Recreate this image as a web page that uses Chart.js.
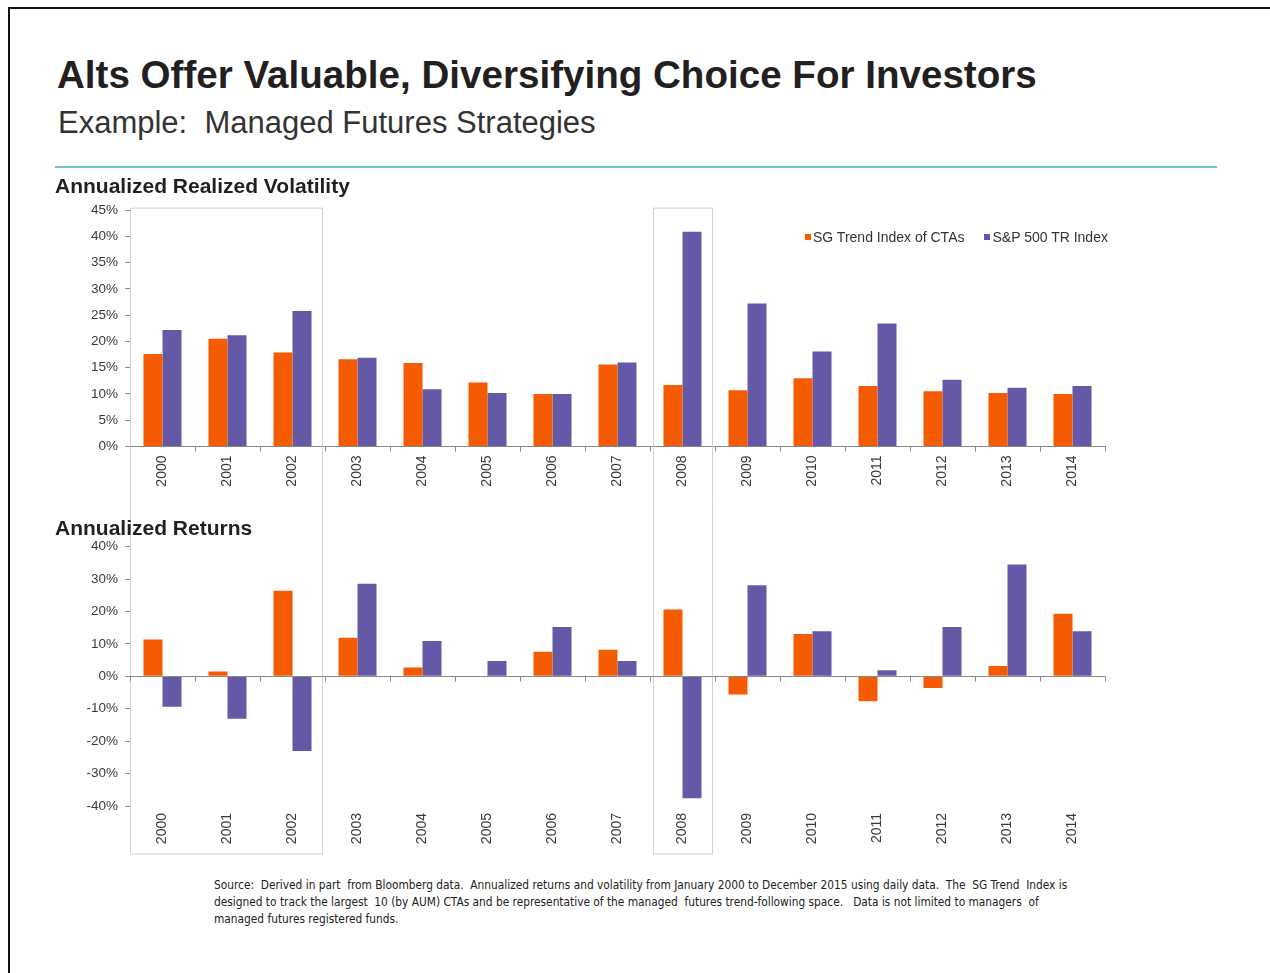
<!DOCTYPE html>
<html>
<head>
<meta charset="utf-8">
<script src="https://cdn.jsdelivr.net/npm/chart.js@4"></script>
<style>
  body { margin: 0; width: 1270px; height: 973px; overflow: hidden; background: #fff;
         font-family: "Liberation Sans", Arial, sans-serif; }
  .abs { position: absolute; white-space: nowrap; }
  #frame { left: 8px; top: 7px; width: 1300px; height: 1000px; border-top: 2px solid #111; border-left: 2px solid #111; }
  #title { left: 57px; top: 56px; font-size: 38.6px; line-height: 38px; font-weight: bold; color: #231f20; }
  #subtitle { left: 58px; top: 107px; font-size: 31px; line-height: 31px; color: #333; }
  #rule { left: 55px; top: 166px; width: 1162px; height: 1.5px; background: #6cc5c8; }
  .head { left: 55px; font-size: 21px; line-height: 21px; font-weight: bold; color: #231f20; }
  #legend { left: 805px; top: 229px; font-size: 14px; line-height: 16px; color: #333; }
  #legend span.item { margin-right: 20px; }
  #legend i { display: inline-block; width: 6px; height: 6px; margin-right: 2px; vertical-align: 2px; }
  #source { left: 214px; top: 877px; font-family: "Liberation Sans Narrow", "DejaVu Sans Condensed", sans-serif;
            font-size: 11.8px; line-height: 17px; color: #222; }
  canvas { position: absolute; }
</style>
</head>
<body>
<div id="frame" class="abs"></div>
<div id="title" class="abs">Alts Offer Valuable, Diversifying Choice For Investors</div>
<div id="subtitle" class="abs">Example:&nbsp; Managed Futures Strategies</div>
<div id="rule" class="abs"></div>

<canvas id="volChart" style="left:40px; top:195px; width:1080px; height:305px;"></canvas>
<canvas id="retChart" style="left:40px; top:500px; width:1080px; height:360px;"></canvas>

<div class="abs head" style="top:175px;">Annualized Realized Volatility</div>
<div class="abs head" style="top:517px;">Annualized Returns</div>
<div id="legend" class="abs"></div>

<div id="source" class="abs">Source:&nbsp; Derived in part&nbsp; from Bloomberg data.&nbsp; Annualized returns and volatility from January 2000 to December 2015 using daily data.&nbsp; The&nbsp; SG Trend&nbsp; Index is<br>designed to track the largest&nbsp; 10 (by AUM) CTAs and be representative of the managed&nbsp; futures trend-following space.&nbsp;&nbsp; Data is not limited to managers&nbsp; of<br>managed futures registered funds.</div>

<script>
var years = ["2000", "2001", "2002", "2003", "2004", "2005", "2006", "2007",
             "2008", "2009", "2010", "2011", "2012", "2013", "2014"];
var seriesNames = ["SG Trend Index of CTAs", "S&P 500 TR Index"];
var seriesColors = ["#f55b00", "#6459a6"];

// annualized realized volatility, %
var volSG = [17.6, 20.5, 17.9, 16.6, 15.9, 12.2, 10.0, 15.6, 11.7, 10.7, 13.0, 11.5, 10.5, 10.2, 10.0];
var volSP = [22.2, 21.2, 25.8, 16.9, 10.9, 10.2, 10.0, 16.0, 40.9, 27.2, 18.1, 23.4, 12.7, 11.2, 11.5];

// annualized returns, %
var retSG = [11.4, 1.5, 26.4, 11.9, 2.7, 0, 7.6, 8.2, 20.6, -5.6, 13.1, -7.7, -3.6, 3.2, 19.3];
var retSP = [-9.4, -13.1, -23.0, 28.6, 10.9, 4.7, 15.2, 4.7, -37.6, 28.1, 13.9, 1.9, 15.2, 34.5, 13.9];

// axis ranges [min, max, step]
var volAxis = [0, 45, 5];
var retAxis = [-40, 40, 10];

// periods boxed across both charts
var boxFrom = ["2000", "2008"];
var boxTo = ["2002", "2008"];

Chart.defaults.font.family = '"Liberation Sans", Arial, sans-serif';
Chart.defaults.color = "#3a3a3a";

var boxesPlugin = {
    id: 'boxes',
    beforeDatasetsDraw: function(chart, args, opts) {
        var x = chart.scales.x, area = chart.chartArea, ctx = chart.ctx;
        var half = (x.getPixelForValue(1) - x.getPixelForValue(0)) / 2;
        var top = opts.top === 'area' ? area.top - 2 : 0.5;
        var bottom = opts.top === 'area' ? chart.height : x.bottom - 6;
        ctx.save();
        ctx.strokeStyle = "#d2d2d2";
        ctx.lineWidth = 1;
        for (var i = 0; i < boxFrom.length; i++) {
            var i0 = years.indexOf(boxFrom[i]), i1 = years.indexOf(boxTo[i]);
            var l = i0 === 0 ? area.left : x.getPixelForValue(i0) - half + 3;
            var r = x.getPixelForValue(i1) + half - 3;
            l = Math.round(l) + 0.5;
            r = Math.round(r) + 0.5;
            ctx.beginPath();
            if (opts.top === 'area') {
                ctx.moveTo(l, bottom);
                ctx.lineTo(l, top);
                ctx.lineTo(r, top);
                ctx.lineTo(r, bottom);
            } else {
                ctx.moveTo(l, top);
                ctx.lineTo(l, bottom);
                ctx.lineTo(r, bottom);
                ctx.lineTo(r, top);
            }
            ctx.stroke();
        }
        ctx.restore();
    }
};

// zero line with tick marks for the returns chart
var zeroAxisPlugin = {
    id: 'zeroAxis',
    afterDatasetsDraw: function(chart) {
        var x = chart.scales.x, y = chart.scales.y, area = chart.chartArea, ctx = chart.ctx;
        var y0 = Math.round(y.getPixelForValue(0)) + 0.5;
        var half = (x.getPixelForValue(1) - x.getPixelForValue(0)) / 2;
        ctx.save();
        ctx.strokeStyle = "#8a8a8a";
        ctx.lineWidth = 1;
        ctx.beginPath();
        ctx.moveTo(area.left, y0);
        ctx.lineTo(area.right, y0);
        for (var i = 0; i <= years.length; i++) {
            var px = Math.round(x.getPixelForValue(0) - half + i * 2 * half) + 0.5;
            ctx.moveTo(px, y0);
            ctx.lineTo(px, y0 + 5);
        }
        ctx.stroke();
        ctx.restore();
    }
};

function makeDatasets(a, b) {
    return [a, b].map(function(vals, k) {
        return {
            label: seriesNames[k],
            data: vals,
            backgroundColor: seriesColors[k],
            borderWidth: 0,
            categoryPercentage: 0.585,
            barPercentage: 1.0
        };
    });
}

function yScale(range) {
    return {
        min: range[0], max: range[1],
        border: { color: "#8a8a8a" },
        grid: { drawOnChartArea: false, drawTicks: true, tickLength: 5, color: "#8a8a8a" },
        ticks: {
            stepSize: range[2], padding: 7,
            font: { size: 13.5 },
            callback: function(v) { return v + "%"; }
        },
        afterFit: function(s) { s.width = 90; }
    };
}

var volChart = new Chart(document.getElementById("volChart"), {
    type: 'bar',
    data: { labels: years, datasets: makeDatasets(volSG, volSP) },
    plugins: [boxesPlugin],
    options: {
        responsive: false,
        animation: false,
        layout: { padding: { top: 12.5, right: 15, bottom: 0, left: 0 } },
        plugins: { legend: { display: false }, tooltip: { enabled: false }, boxes: { top: 'area' } },
        scales: {
            x: {
                offset: true,
                border: { color: "#8a8a8a" },
                grid: { offset: true, drawOnChartArea: false, tickLength: 5, color: "#8a8a8a" },
                ticks: { minRotation: 90, maxRotation: 90, padding: 4, font: { size: 14 } },
                afterFit: function(s) { s.height = 53.5; }
            },
            y: yScale(volAxis)
        }
    }
});

var retChart = new Chart(document.getElementById("retChart"), {
    type: 'bar',
    data: { labels: years, datasets: makeDatasets(retSG, retSP) },
    plugins: [boxesPlugin, zeroAxisPlugin],
    options: {
        responsive: false,
        animation: false,
        layout: { padding: { top: 46.7, right: 15, bottom: 0, left: 0 } },
        plugins: { legend: { display: false }, tooltip: { enabled: false }, boxes: { top: 'canvas' } },
        scales: {
            x: {
                offset: true,
                border: { display: false },
                grid: { display: false, drawTicks: false },
                ticks: { minRotation: 90, maxRotation: 90, padding: 7, font: { size: 14 } },
                afterFit: function(s) { s.height = 54; }
            },
            y: yScale(retAxis)
        }
    }
});

// legend built from the series definitions
var legend = document.getElementById("legend");
seriesNames.forEach(function(name, k) {
    var item = document.createElement("span");
    item.className = "item";
    var sw = document.createElement("i");
    sw.style.background = seriesColors[k];
    item.appendChild(sw);
    item.appendChild(document.createTextNode(name));
    legend.appendChild(item);
});
</script>
</body>
</html>
